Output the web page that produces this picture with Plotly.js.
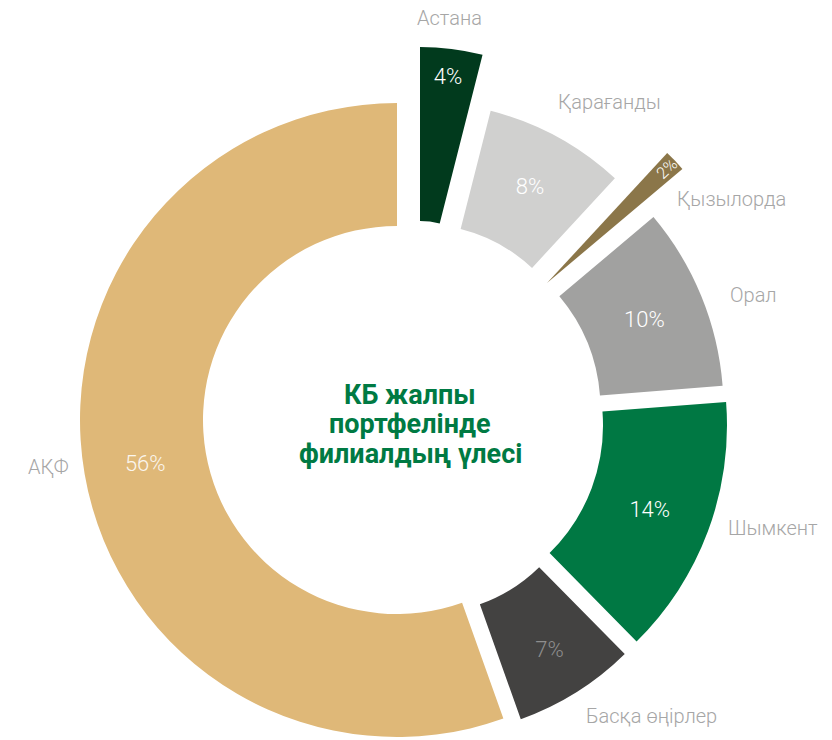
<!DOCTYPE html>
<html><head><meta charset="utf-8">
<script src="https://cdn.plot.ly/plotly-3.0.1.min.js"></script>
<style>html,body{margin:0;padding:0;background:#fff}#chart{width:832px;height:740px}</style>
</head><body><div id="chart"></div>
<script>
// ---- data ----
const labels = ['Астана', 'Қарағанды', 'Қызылорда', 'Орал', 'Шымкент', 'Басқа өңірлер', 'АҚФ'];
const values = [4, 8, 2, 10, 14, 7, 56];
const centerTitle = ['КБ жалпы', 'портфелінде', 'филиалдың үлесі'];

// ---- style ----
const colors = ['#013a1d', '#d0d0cf', '#8b7649', '#a1a1a0', '#007843', '#434241', '#dfb878'];
const pctColors = ['#ffffff', '#ffffff', '#ffffff', '#ffffff', '#ffffff', '#8e8e8e', '#fbf6ee'];
// geometry of each exploded segment (centre, outer radius, inner radius, px)
const geom = [
  {cx: 420, cy: 301, R: 254, r: 80},
  {cx: 420, cy: 389, R: 287, r: 165},
  {cx: 547, cy: 283, R: 177, r: 0},
  {cx: 425.5, cy: 409, R: 298, r: 175},
  {cx: 424, cy: 425.5, R: 303, r: 179},
  {cx: 425.5, cy: 451.7, R: 284, r: 162},
  {cx: 397, cy: 420, R: 317, r: 194}
];
const labelPos = [[449, 18], [609, 102], [731, 199], [753, 295], [773, 528], [651, 716], [48, 467]];
const titlePos = [[410, 395], [410, 424], [410, 454]];
const W = 832, H = 740;

const traces = geom.map((g, i) => ({
  type: 'pie',
  labels: labels,
  values: values,
  sort: false,
  direction: 'clockwise',
  rotation: 0,
  hole: g.r / g.R,
  domain: {x: [(g.cx - g.R) / W, (g.cx + g.R) / W], y: [1 - (g.cy + g.R) / H, 1 - (g.cy - g.R) / H]},
  marker: {colors: colors.map((c, j) => j === i ? c : 'rgba(0,0,0,0)'), line: {width: 0}},
  text: values.map((v, j) => j === i ? v + '%' : ''),
  textinfo: 'text',
  textposition: 'inside',
  insidetextorientation: 'auto',
  insidetextfont: {family: 'Roboto', size: 22, weight: 300, color: pctColors[i]},
  hoverinfo: 'none',
  showlegend: false
}));

const annotations = labels.map((l, i) => ({
  text: l, x: labelPos[i][0] / W, y: 1 - labelPos[i][1] / H, xref: 'paper', yref: 'paper',
  xanchor: 'center', yanchor: 'middle', showarrow: false,
  font: {family: 'Roboto', size: 20, weight: 300, color: '#a6a6a6'}
})).concat(centerTitle.map((t, i) => ({
  text: t, x: titlePos[i][0] / W, y: 1 - titlePos[i][1] / H, xref: 'paper', yref: 'paper',
  xanchor: 'center', yanchor: 'middle', showarrow: false,
  font: {family: 'Roboto', size: 27, weight: 700, color: '#007a43'}
})));

Plotly.newPlot('chart', traces, {
  width: W, height: H,
  margin: {l: 0, r: 0, t: 0, b: 0},
  paper_bgcolor: '#ffffff', plot_bgcolor: '#ffffff',
  showlegend: false,
  annotations: annotations
}, {displayModeBar: false, staticPlot: true});
</script></body></html>
